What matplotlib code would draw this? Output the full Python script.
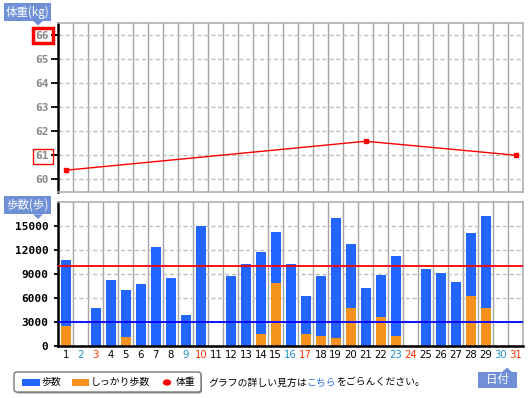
import numpy as np
import matplotlib.pyplot as plt
from matplotlib.patches import Rectangle, Polygon, FancyBboxPatch, Circle

plt.rcParams['font.family'] = ['Noto Sans CJK JP', 'DejaVu Sans']

# data
days = list(range(1, 32))
steps = [10750, 0, 4750, 8250, 7000, 7750, 12375, 8500, 3875, 15000, 0,
         8750, 10250, 11750, 14250, 10250, 6250, 8750, 16000, 12750, 7250,
         8875, 11250, 0, 9625, 9125, 8000, 14125, 16250, 0, 0]
firm_steps = [2500, 0, 0, 0, 1125, 0, 0, 0, 0, 0, 0,
              0, 0, 1500, 7875, 0, 1500, 1250, 1000, 4750, 0,
              3625, 1250, 0, 0, 0, 0, 6250, 4750, 0, 0]
weight_days = [1, 21, 31]
weight = [60.375, 61.583, 61.0]
weight_ticks = [60, 61, 62, 63, 64, 65, 66]
step_ticks = [0, 3000, 6000, 9000, 12000, 15000]
step_goal = 10000
firm_goal = 3000
blue_days = [2, 9, 16, 23, 30]
red_days = [3, 10, 17, 24, 31]

W, H = 530, 398
def fx(x): return x / W
def fy(y): return 1 - y / H

fig = plt.figure(figsize=(W / 100, H / 100), dpi=100)

BAR_BLUE = '#2266ff'
BAR_ORANGE = '#f5921e'
LABEL_BG = '#6f8fd6'
GRID_V = '#a4a4a4'
GRID_H = '#c0c0c0'

# ---- weight chart
ax1 = fig.add_axes([fx(58.3), fy(191.7), fx(523.3) - fx(58.3), fy(23.3) - fy(191.7)])
ax1.set_xlim(0.5, 31.5)
ax1.set_ylim(59.48, 66.5)
ax1.set_yticks(weight_ticks)
ax1.set_yticklabels([str(t) for t in weight_ticks], family='DejaVu Sans Mono',
                    fontweight='bold', fontsize=8, color='#8a8a8a')
ax1.set_xticks([])
ax1.tick_params(axis='y', length=5, width=1.3, pad=2, color='black')
ax1.grid(axis='y', ls=(0, (3, 2)), color=GRID_H, lw=1)
for x in np.arange(1.5, 31, 1):
    ax1.axvline(x, color=GRID_V, lw=1.0, zorder=1)
ax1.plot(weight_days, weight, color='red', lw=1, marker='s', ms=3.5, zorder=3)
for s in ['top', 'right', 'bottom']:
    ax1.spines[s].set_color('#b0b0b0')
    ax1.spines[s].set_linewidth(1.2)
ax1.spines['left'].set_linewidth(1.8)

# ---- steps chart
ax2 = fig.add_axes([fx(58.3), fy(346), fx(523.3) - fx(58.3), fy(202.3) - fy(346)])
ax2.set_xlim(0.5, 31.5)
ax2.set_ylim(0, 18000)
ax2.bar(days, steps, width=0.67, color=BAR_BLUE, zorder=2)
ax2.bar(days, firm_steps, width=0.67, color=BAR_ORANGE, zorder=2)
ax2.axhline(step_goal, color='red', lw=1.3, zorder=3)
ax2.axhline(firm_goal, color='blue', lw=1.3, zorder=3)
ax2.set_yticks(step_ticks)
ax2.set_yticklabels([str(t) for t in step_ticks], family='DejaVu Sans Mono',
                    fontweight='bold', fontsize=8)
ax2.tick_params(axis='y', length=3, width=1.3, pad=4)
ax2.set_xticks(days)
ax2.set_xticklabels([str(d) for d in days], fontsize=7.3, family='DejaVu Sans')
ax2.tick_params(axis='x', length=0, pad=3)
for lab, d in zip(ax2.get_xticklabels(), days):
    if d in blue_days:
        lab.set_color('#1e8fc6')
    elif d in red_days:
        lab.set_color('#ff3300')
ax2.grid(axis='y', ls=(0, (3, 2)), color=GRID_H, lw=1, zorder=0)
for x in np.arange(1.5, 31, 1):
    ax2.axvline(x, color=GRID_V, lw=1.0, zorder=1)
for s in ['top', 'right']:
    ax2.spines[s].set_color('#b0b0b0')
    ax2.spines[s].set_linewidth(1.2)
ax2.spines['left'].set_linewidth(1.8)
ax2.spines['bottom'].set_linewidth(1.8)


# ---- blue name tags
def tag(x0, y0, x1, y1, text, tip_x, tip_y, up=False):
    fig.add_artist(Rectangle((fx(x0), fy(y1)), fx(x1) - fx(x0), fy(y0) - fy(y1),
                             transform=fig.transFigure, color=LABEL_BG, lw=0))
    base = y0 if up else y1
    fig.add_artist(Polygon([(fx(tip_x - 5), fy(base)), (fx(tip_x + 5), fy(base)),
                            (fx(tip_x), fy(tip_y))],
                           transform=fig.transFigure, color=LABEL_BG, lw=0))
    fig.text(fx((x0 + x1) / 2), fy((y0 + y1) / 2), text, color='white',
             fontsize=8.3, ha='center', va='center')

tag(4, 3.3, 50.7, 20.7, '体重(kg)', 38, 25.5)
tag(4, 196, 51, 214.3, '歩数(歩)', 38, 219)
tag(478, 372, 517, 388, '日付', 507, 367.5, up=True)

# red boxes around weight labels
fig.add_artist(Rectangle((fx(32.5), fy(42.5)), fx(53) - fx(32.5), fy(27.5) - fy(42.5),
                         transform=fig.transFigure, fill=False, ec='red', lw=2.5))
fig.add_artist(Rectangle((fx(32.5), fy(163.5)), fx(53) - fx(32.5), fy(149.5) - fy(163.5),
                         transform=fig.transFigure, fill=False, ec='red', lw=1))

# ---- legend
fig.add_artist(FancyBboxPatch((fx(15.5), fy(393.5)), fx(202) - fx(15.5), fy(373) - fy(393.5),
                              boxstyle='round,pad=0,rounding_size=0.006',
                              transform=fig.transFigure, fc='#999999', ec='none'))
fig.add_artist(FancyBboxPatch((fx(14), fy(392)), fx(201) - fx(14), fy(372) - fy(392),
                              boxstyle='round,pad=0,rounding_size=0.006',
                              transform=fig.transFigure, fc='white', ec='#777777', lw=1))
ly = 382.5
fs = 7.1
fig.add_artist(Rectangle((fx(22), fy(386)), fx(40) - fx(22), fy(379) - fy(386),
                         transform=fig.transFigure, color=BAR_BLUE, lw=0))
fig.text(fx(41), fy(ly), '歩数', fontsize=fs, va='center')
fig.add_artist(Rectangle((fx(72), fy(386)), fx(89) - fx(72), fy(379) - fy(386),
                         transform=fig.transFigure, color=BAR_ORANGE, lw=0))
fig.text(fx(91), fy(ly), 'しっかり歩数', fontsize=fs, va='center')
fig.add_artist(Circle((fx(167), fy(ly)), 4.2 / W, transform=fig.transFigure,
                      color='red', lw=0))
fig.text(fx(176), fy(ly), '体重', fontsize=fs, va='center')

t1 = fig.text(fx(208), fy(ly), 'グラフの詳しい見方は', fontsize=fs, va='center')
fig.canvas.draw()
r = fig.canvas.get_renderer()
bb = t1.get_window_extent(r)
t2 = fig.text(bb.x1 / W, fy(ly), 'こちら', fontsize=fs, va='center', color='#2a6ee8')
bb2 = t2.get_window_extent(r)
fig.text(bb2.x1 / W, fy(ly), 'をごらんください。', fontsize=fs, va='center')

fig.savefig('out.png', dpi=100)
